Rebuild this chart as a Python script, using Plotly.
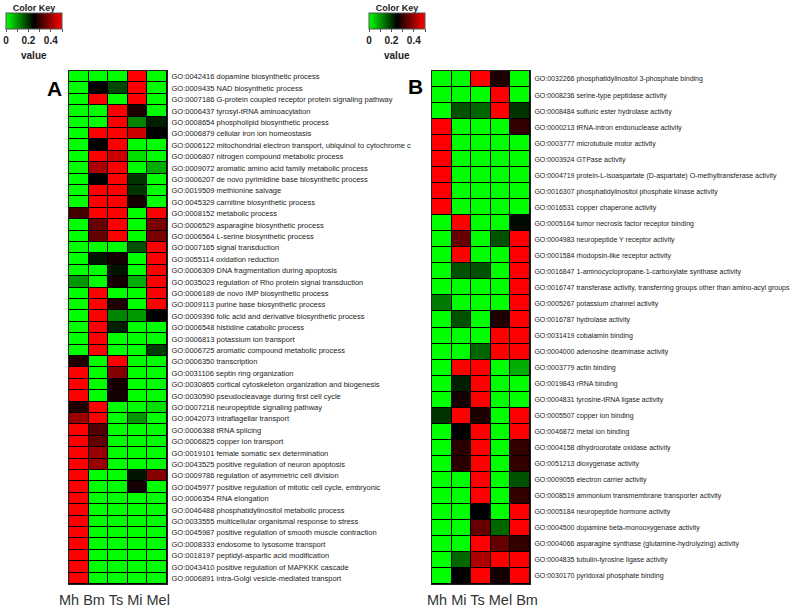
import plotly.graph_objects as go

# ---------------- Panel A data ----------------
A_columns = ["Mh", "Bm", "Ts", "Mi", "Mel"]
A_terms = [
    "GO:0042416 dopamine biosynthetic process",
    "GO:0009435 NAD biosynthetic process",
    "GO:0007186 G-protein coupled receptor protein signaling pathway",
    "GO:0006437 tyrosyl-tRNA aminoacylation",
    "GO:0008654 phospholipid biosynthetic process",
    "GO:0006879 cellular iron ion homeostasis",
    "GO:0006122 mitochondrial electron transport, ubiquinol to cytochrome c",
    "GO:0006807 nitrogen compound metabolic process",
    "GO:0009072 aromatic amino acid family metabolic process",
    "GO:0006207 de novo pyrimidine base biosynthetic process",
    "GO:0019509 methionine salvage",
    "GO:0045329 carnitine biosynthetic process",
    "GO:0008152 metabolic process",
    "GO:0006529 asparagine biosynthetic process",
    "GO:0006564 L-serine biosynthetic process",
    "GO:0007165 signal transduction",
    "GO:0055114 oxidation reduction",
    "GO:0006309 DNA fragmentation during apoptosis",
    "GO:0035023 regulation of Rho protein signal transduction",
    "GO:0006189 de novo IMP biosynthetic process",
    "GO:0009113 purine base biosynthetic process",
    "GO:0009396 folic acid and derivative biosynthetic process",
    "GO:0006548 histidine catabolic process",
    "GO:0006813 potassium ion transport",
    "GO:0006725 aromatic compound metabolic process",
    "GO:0006350 transcription",
    "GO:0031106 septin ring organization",
    "GO:0030865 cortical cytoskeleton organization and biogenesis",
    "GO:0030590 pseudocleavage during first cell cycle",
    "GO:0007218 neuropeptide signaling pathway",
    "GO:0042073 intraflagellar transport",
    "GO:0006388 tRNA splicing",
    "GO:0006825 copper ion transport",
    "GO:0019101 female somatic sex determination",
    "GO:0043525 positive regulation of neuron apoptosis",
    "GO:0009786 regulation of asymmetric cell division",
    "GO:0045977 positive regulation of mitotic cell cycle, embryonic",
    "GO:0006354 RNA elongation",
    "GO:0046488 phosphatidylinositol metabolic process",
    "GO:0033555 multicellular organismal response to stress",
    "GO:0045987 positive regulation of smooth muscle contraction",
    "GO:0008333 endosome to lysosome transport",
    "GO:0018197 peptidyl-aspartic acid modification",
    "GO:0043410 positive regulation of MAPKKK cascade",
    "GO:0006891 intra-Golgi vesicle-mediated transport",
]
A_Mh = [0, 0, 0, 0, 0, 0, 0, 0, 0, 0, 0, 0, 0.32, 0, 0, 0, 0, 0, 0.1, 0,
        0, 0, 0, 0, 0, 0.28, 0.5, 0.5, 0.5, 0.28, 0.4, 0.5, 0.5, 0.5, 0.5,
        0.5, 0.5, 0.5, 0.5, 0.5, 0.5, 0.5, 0.5, 0.5, 0.5]
A_Bm = [0, 0.25, 0.5, 0, 0, 0.5, 0.25, 0.5, 0.42, 0.25, 0.5, 0.5, 0.5, 0.35,
        0.35, 0, 0.23, 0, 0, 0.5, 0.5, 0.5, 0.5, 0.5, 0.5, 0, 0, 0, 0, 0.5,
        0.5, 0.33, 0.35, 0.4, 0.4, 0, 0, 0, 0, 0, 0, 0, 0, 0, 0]
A_Ts = [0, 0.18, 0, 0.5, 0.5, 0.5, 0.5, 0.45, 0.5, 0.5, 0.5, 0.5, 0.5, 0.5,
        0.5, 0, 0.27, 0.23, 0.27, 0, 0.28, 0.12, 0.22, 0, 0, 0.5, 0.38, 0.27,
        0.27, 0, 0, 0, 0, 0, 0, 0, 0, 0, 0, 0, 0, 0, 0, 0, 0]
A_Mi = [0.5, 0.5, 0.5, 0.28, 0.12, 0.45, 0, 0.03, 0, 0.2, 0.2, 0.27, 0, 0,
        0, 0.17, 0, 0, 0.08, 0, 0, 0.1, 0, 0, 0, 0, 0, 0, 0, 0, 0.1, 0, 0,
        0, 0, 0.23, 0.27, 0, 0, 0, 0, 0, 0, 0, 0]
A_Mel = [0, 0, 0, 0, 0.22, 0.25, 0, 0, 0.08, 0, 0, 0, 0.5, 0.37, 0.37, 0.5,
         0.5, 0.5, 0.5, 0.5, 0.5, 0.25, 0, 0, 0.19, 0, 0, 0, 0, 0.03, 0, 0,
         0, 0, 0, 0.38, 0, 0, 0, 0, 0, 0, 0, 0, 0]

# ---------------- Panel B data ----------------
B_columns = ["Mh", "Mi", "Ts", "Mel", "Bm"]
B_terms = [
    "GO:0032266 phosphatidylinositol 3-phosphate binding",
    "GO:0008236 serine-type peptidase activity",
    "GO:0008484 sulfuric ester hydrolase activity",
    "GO:0000213 tRNA-intron endonuclease activity",
    "GO:0003777 microtubule motor activity",
    "GO:0003924 GTPase activity",
    "GO:0004719 protein-L-isoaspartate (D-aspartate) O-methyltransferase activity",
    "GO:0016307 phosphatidylinositol phosphate kinase activity",
    "GO:0016531 copper chaperone activity",
    "GO:0005164 tumor necrosis factor receptor binding",
    "GO:0004983 neuropeptide Y receptor activity",
    "GO:0001584 rhodopsin-like receptor activity",
    "GO:0016847 1-aminocyclopropane-1-carboxylate synthase activity",
    "GO:0016747 transferase activity, transferring groups other than amino-acyl groups",
    "GO:0005267 potassium channel activity",
    "GO:0016787 hydrolase activity",
    "GO:0031419 cobalamin binding",
    "GO:0004000 adenosine deaminase activity",
    "GO:0003779 actin binding",
    "GO:0019843 rRNA binding",
    "GO:0004831 tyrosine-tRNA ligase activity",
    "GO:0005507 copper ion binding",
    "GO:0046872 metal ion binding",
    "GO:0004158 dihydroorotate oxidase activity",
    "GO:0051213 dioxygenase activity",
    "GO:0009055 electron carrier activity",
    "GO:0008519 ammonium transmembrane transporter activity",
    "GO:0005184 neuropeptide hormone activity",
    "GO:0004500 dopamine beta-monooxygenase activity",
    "GO:0004066 asparagine synthase (glutamine-hydrolyzing) activity",
    "GO:0004835 tubulin-tyrosine ligase activity",
    "GO:0030170 pyridoxal phosphate binding",
]
B_Mh = [0, 0, 0, 0.5, 0.5, 0.5, 0.5, 0.5, 0.5, 0, 0, 0, 0, 0, 0.13, 0, 0, 0,
        0, 0, 0, 0.2, 0, 0, 0, 0, 0, 0, 0, 0, 0, 0]
B_Mi = [0, 0, 0.17, 0, 0, 0, 0, 0, 0, 0.5, 0.35, 0.5, 0.17, 0, 0, 0.17, 0,
        0, 0.5, 0.22, 0.27, 0.5, 0.25, 0.29, 0.29, 0, 0, 0, 0, 0, 0.15, 0.25]
B_Ts = [0.5, 0, 0.15, 0, 0, 0, 0, 0, 0, 0, 0, 0, 0.17, 0, 0, 0, 0, 0.15, 0.5,
        0.5, 0.5, 0.28, 0.5, 0.5, 0.5, 0.5, 0.5, 0.25, 0.35, 0.5, 0.42, 0.5]
B_Mel = [0.28, 0.5, 0.5, 0, 0, 0, 0, 0, 0, 0, 0.17, 0, 0, 0, 0, 0.28, 0.5,
         0.5, 0, 0, 0, 0, 0, 0, 0, 0, 0, 0, 0.15, 0.35, 0.5, 0.27]
B_Bm = [0, 0, 0.2, 0.3, 0, 0, 0, 0, 0, 0.24, 0.5, 0.5, 0.5, 0.5, 0.5, 0.5,
        0.5, 0.5, 0.08, 0, 0, 0.5, 0.5, 0.3, 0.3, 0.17, 0.3, 0.5, 0.5, 0.3,
        0.5, 0.5]

key_tickvals = [0, 0.1, 0.2, 0.3, 0.4, 0.5]
key_ticktext = ["0", "", "0.2", "", "0.4", ""]

W, H = 800, 609
FONT = "Arial, Liberation Sans, sans-serif"
colorscale = [[0, "#00FF00"], [0.5, "#000000"], [1, "#FF0000"]]


def px_x(p):
    return p / W


def px_y(p):
    return 1 - p / H


def rows_from(cols):
    return [list(r) for r in zip(*cols)]


A_z = rows_from([A_Mh, A_Bm, A_Ts, A_Mi, A_Mel])
B_z = rows_from([B_Mh, B_Mi, B_Ts, B_Mel, B_Bm])


def colorbar(cx):
    return dict(
        orientation="h",
        lenmode="pixels", len=56,
        thicknessmode="pixels", thickness=16,
        x=px_x(cx), xanchor="center",
        y=px_y(3), yanchor="top",
        xpad=0, ypad=0,
        outlinewidth=1, outlinecolor="#555",
        ticks="outside", ticklen=3, tickcolor="#555",
        tickvals=key_tickvals, ticktext=key_ticktext,
        tickfont=dict(family=FONT, size=10, color="#222", weight="bold"),
        title=dict(text="<b>Color Key</b>", side="top",
                   font=dict(family=FONT, size=9, color="#222")),
    )


fig = go.Figure()
fig.add_trace(go.Heatmap(
    z=A_z, x=A_columns, y=A_terms, zmin=0, zmax=0.5,
    colorscale=colorscale, xgap=1, ygap=1,
    colorbar=colorbar(34), xaxis="x", yaxis="y",
))
fig.add_trace(go.Heatmap(
    z=B_z, x=B_columns, y=B_terms, zmin=0, zmax=0.5,
    colorscale=colorscale, xgap=1, ygap=1,
    colorbar=colorbar(397), xaxis="x2", yaxis="y2",
))

ax_common = dict(showgrid=False, zeroline=False, showline=True, mirror=True,
                 linecolor="#222", linewidth=1, automargin=False)

fig.update_layout(
    width=W, height=H, autosize=False,
    margin=dict(l=0, r=0, t=0, b=0),
    paper_bgcolor="white", plot_bgcolor="black",
    showlegend=False,
    xaxis=dict(domain=[px_x(69), px_x(167)], anchor="y",
               showticklabels=False, ticks="", **ax_common),
    yaxis=dict(domain=[px_y(584), px_y(71)], anchor="x", side="right",
               autorange="reversed", ticks="",
               tickfont=dict(family=FONT, size=7.5, color="#222"),
               ticklabelstandoff=2, **ax_common),
    xaxis2=dict(domain=[px_x(432), px_x(530)], anchor="y2",
                showticklabels=False, ticks="", **ax_common),
    yaxis2=dict(domain=[px_y(584), px_y(71)], anchor="x2", side="right",
                autorange="reversed", ticks="",
                tickfont=dict(family=FONT, size=7, color="#222"),
                ticklabelstandoff=2, **ax_common),
)

ann = []


def add_text(cx, cy, text, size, color):
    ann.append(dict(x=px_x(cx), y=px_y(cy), xref="paper", yref="paper",
                    xanchor="center", yanchor="middle",
                    text=text, showarrow=False,
                    font=dict(family=FONT, size=size, color=color)))


add_text(54, 88, "<b>A</b>", 21, "black")
add_text(415, 86, "<b>B</b>", 21, "black")
for cx in (34, 397):
    add_text(cx, 55, "<b>value</b>", 10, "#222")
for cx, cols in [(115, A_columns), (482, B_columns)]:
    add_text(cx, 600, " ".join(cols), 14.5, "#333")
fig.update_layout(annotations=ann)

fig.write_html(
    "out.html",
    config={"displayModeBar": False},
    post_script="document.body.style.margin='0';document.body.style.padding='0';"
                "document.body.style.overflow='hidden';",
)
